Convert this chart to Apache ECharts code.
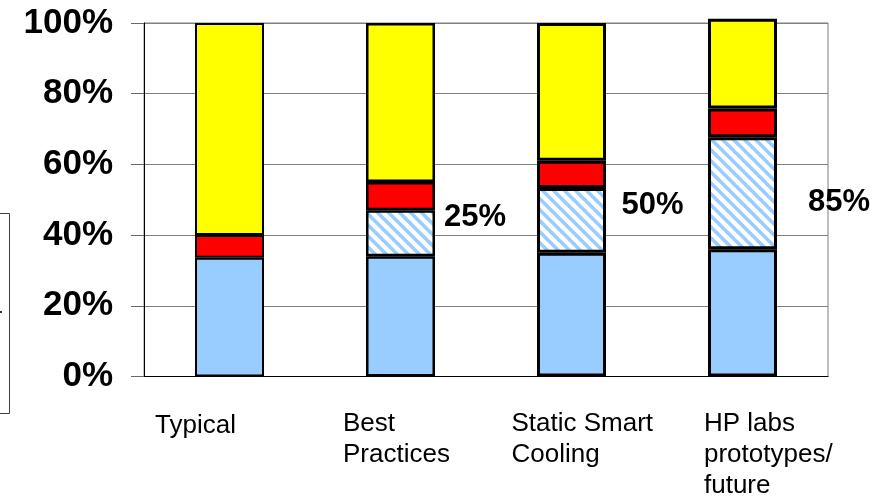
<!DOCTYPE html>
<html>
<head>
<meta charset="utf-8">
<script src="https://cdn.jsdelivr.net/npm/echarts@6/dist/echarts.min.js"></script>
<style>
  html, body { margin: 0; padding: 0; background: #fff; }
  #chart { width: 874px; height: 499px; }
</style>
</head>
<body>
<div id="chart"></div>
<script>
// ---- data ----
const categories = ['Typical', 'Best\nPractices', 'Static Smart\nCooling', 'HP labs\nprototypes/\nfuture'];
const itLoad      = [33.6, 34, 35, 36];       // light blue base
const savings     = [null, 13, 18.3, 31.7];   // hatched block
const powerLoss   = [6.4, 8, 7.7, 8.1];       // red
const coolingLoad = [60, 45, 39, 25.4];       // yellow
const yTickValues = [0, 20, 40, 60, 80, 100];
const noteTexts   = ['', '25%', '50%', '85%'];

// ---- layout / style ----
const FONT = '"Liberation Sans", Arial, Helvetica, sans-serif';
const barBorder   = [2, 2.5, 3, 3];
const noteLevel   = [null, 44.9, 48.4, 49.3];     // vertical anchor of the side notes
const noteShift   = [0, 43.5, 50, 65.5];          // px right of the category centre
const labelShift  = [-74.5, -57.5, -60, -38.5];   // left edge of x labels vs category centre
const labelTopPad = [4, 0, 0, 0];

// diagonal light-blue hatch on white
function makeHatch() {
  const size = 11;
  const c = document.createElement('canvas');
  c.width = size; c.height = size;
  const ctx = c.getContext('2d');
  ctx.fillStyle = '#ffffff';
  ctx.fillRect(0, 0, size, size);
  ctx.strokeStyle = '#99CCFF';
  ctx.lineWidth = 3.6;
  for (let k = -size; k <= size; k += size) {
    ctx.beginPath();
    ctx.moveTo(k - 2, -2);
    ctx.lineTo(k + size + 2, size + 2);
    ctx.stroke();
  }
  return c;
}

// measure text so multi-line labels can be left aligned at a chosen x
const measureCtx = document.createElement('canvas').getContext('2d');
measureCtx.font = '26px ' + FONT;
const rich = {};
categories.forEach((cat, i) => {
  const widest = Math.max(...cat.split('\n').map(s => measureCtx.measureText(s).width));
  const diff = 2 * labelShift[i] + widest;
  rich['c' + i] = {
    fontFamily: FONT, fontSize: 26, lineHeight: 31, color: '#000', align: 'left',
    padding: [labelTopPad[i], Math.max(-diff, 0), 0, Math.max(diff, 0)]
  };
});

function barSeries(name, values, fill) {
  return {
    name, type: 'bar', stack: 'total', barWidth: 69, clip: false,
    data: values.map((v, i) => ({ value: v, itemStyle: { borderWidth: barBorder[i] } })),
    itemStyle: { color: fill, borderColor: '#000', borderWidth: 2 },
    emphasis: { disabled: true }
  };
}

const frame = [
  { type: 'rect', silent: true, shape: { x: -6, y: 213.5, width: 15.5, height: 200 },
    style: { fill: 'none', stroke: '#404040', lineWidth: 1 } },
  { type: 'rect', silent: true, shape: { x: 0, y: 311, width: 2, height: 2 }, style: { fill: '#333' } }
];

const chart = echarts.init(document.getElementById('chart'), null, { renderer: 'canvas' });
chart.setOption({
  animation: false,
  backgroundColor: '#fff',
  grid: { left: 144, right: 46, top: 23, bottom: 122, show: true, borderColor: '#808080', borderWidth: 1 },
  xAxis: {
    type: 'category',
    data: categories,
    axisLine: { lineStyle: { color: '#000', width: 1 } },
    axisTick: { length: 11, lineStyle: { color: '#000' } },
    axisLabel: {
      interval: 0, margin: 32,
      formatter: (v, i) => v.split('\n').map(s => '{c' + i + '|' + s + '}').join('\n'),
      rich
    }
  },
  yAxis: {
    type: 'value',
    min: yTickValues[0], max: yTickValues[yTickValues.length - 1], interval: yTickValues[1] - yTickValues[0],
    axisLine: { show: true, lineStyle: { color: '#000' } },
    axisTick: { show: true, length: 13, lineStyle: { color: '#666' } },
    splitLine: { lineStyle: { color: '#808080', width: 1 } },
    axisLabel: { formatter: '{value}%', margin: 31, fontSize: 35, fontWeight: 'bold', fontFamily: FONT, color: '#000' }
  },
  series: [
    barSeries('IT equipment', itLoad, '#99CCFF'),
    barSeries('Savings', savings, { image: makeHatch(), repeat: 'repeat' }),
    barSeries('Power delivery', powerLoss, '#FF0000'),
    barSeries('Cooling', coolingLoad, '#FFFF00')
  ],
  graphic: frame
});

// side notes next to the bars
const noteGraphics = [];
noteTexts.forEach((t, i) => {
  if (!t) return;
  const p = chart.convertToPixel({ xAxisIndex: 0, yAxisIndex: 0 }, [i, noteLevel[i]]);
  noteGraphics.push({
    type: 'text', silent: true, x: p[0] + noteShift[i], y: p[1],
    style: { text: t, fill: '#000', font: 'bold 31px ' + FONT, align: 'left', verticalAlign: 'middle' }
  });
});
chart.setOption({ graphic: frame.concat(noteGraphics) });
</script>
</body>
</html>
